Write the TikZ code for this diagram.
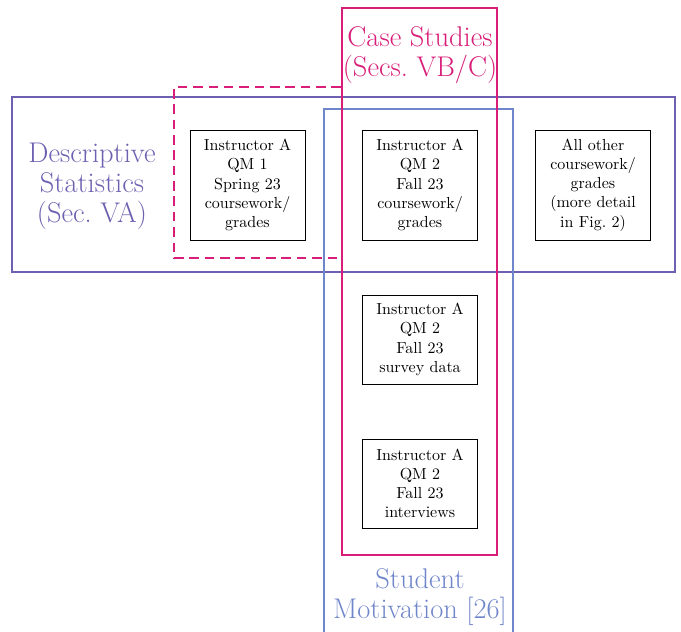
\documentclass[tikz,border=0pt]{standalone}
\usetikzlibrary{positioning}
\definecolor{cpurple}{RGB}{108,96,176}
\definecolor{cmag}{RGB}{216,30,120}
\definecolor{cblue}{RGB}{112,134,202}
\tikzset{
  databox/.style={draw=black, line width=0.6pt, align=center, inner sep=1pt, text width=68pt, minimum width=71.9pt},
  group/.style={line width=1.3pt},
  biglabel/.style={font=\fontsize{17.8pt}{18.75pt}\selectfont, align=center}
}
\begin{document}
\begin{tikzpicture}[x=0.625pt,y=-0.625pt]
\clip (0,0) rectangle (681,631);
\useasboundingbox (0,0) rectangle (681,631);
% Descriptive statistics group
\draw[group, draw=cpurple] (12,97) rectangle (675,272);
\node[biglabel, text=cpurple] (desc) at (92,186) {Descriptive\\Statistics\\(Sec.\ VA)};
% dashed case study part
\draw[group, draw=cmag, dash pattern=on 6pt off 3.6pt] (341,87) -- (174,87) -- (174,258) -- (341,258);
% student motivation group
\draw[group, draw=cblue] (324,109) rectangle (513,650);
\node[biglabel, text=cblue] (motiv) at (420,597) {Student\\Motivation [26]};
% case studies group
\draw[group, draw=cmag] (342,8) rectangle (497,555);
\node[biglabel, text=cmag] (case) at (420,55) {Case Studies\\(Secs.\ VB/C)};
% data boxes
\node[databox, minimum height=68.75pt] (b1) at (247.5,185) {Instructor A\\QM 1\\Spring 23\\coursework/\\grades};
\node[databox, minimum height=68.75pt] (b2) at (420,185) {Instructor A\\QM 2\\Fall 23\\coursework/\\grades};
\node[databox, minimum height=68.75pt] (b3) at (593,185) {All other\\coursework/\\grades\\(more detail\\in Fig.\ 2)};
\node[databox, minimum height=55.6pt] (b4) at (420,339.5) {Instructor A\\QM 2\\Fall 23\\survey data};
\node[databox, minimum height=55.6pt] (b5) at (420,483.5) {Instructor A\\QM 2\\Fall 23\\interviews};
\end{tikzpicture}
\end{document}
